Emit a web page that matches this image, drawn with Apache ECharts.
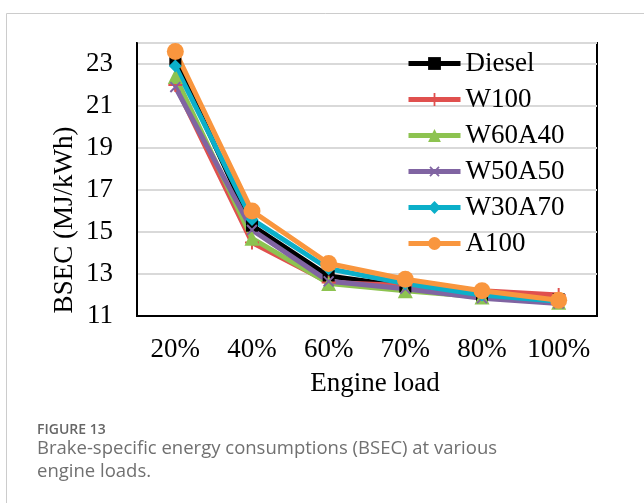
<!DOCTYPE html>
<html>
<head>
<meta charset="utf-8">
<script src="https://cdn.jsdelivr.net/npm/echarts@6/dist/echarts.min.js"></script>
<style>
  html, body { margin: 0; padding: 0; background: #fff; }
  #chart { width: 644px; height: 503px; }
</style>
</head>
<body>
<div id="chart"></div>
<script>
// Engine load categories and BSEC values (MJ/kWh) per fuel
const loads = ['20%', '40%', '60%', '70%', '80%', '100%'];
const diesel = [23.2, 15.3, 12.9, 12.4, 11.9, 11.8];
const w100   = [22.0, 14.5, 12.6, 12.45, 12.2, 12.0];
const w60a40 = [22.4, 14.7, 12.55, 12.2, 11.9, 11.65];
const w50a50 = [21.9, 15.1, 12.65, 12.3, 11.85, 11.6];
const w30a70 = [22.9, 15.6, 13.25, 12.55, 12.0, 11.7];
const a100   = [23.6, 16.0, 13.5, 12.75, 12.2, 11.75];
const yTicks = [11, 13, 15, 17, 19, 21, 23];

const serif = '"Liberation Serif", "Times New Roman", serif';
const plusPath = 'path://M4.3,0 L5.7,0 L5.7,4.3 L10,4.3 L10,5.7 L5.7,5.7 L5.7,10 L4.3,10 L4.3,5.7 L0,5.7 L0,4.3 L4.3,4.3 Z';

function lineSeries(name, data, color, symbol, size, extra) {
  return Object.assign({
    name: name,
    type: 'line',
    data: data,
    symbol: symbol,
    symbolSize: size,
    lineStyle: { color: color, width: 5 },
    itemStyle: { color: color },
    emphasis: { disabled: true },
    animation: false
  }, extra || {});
}

const chart = echarts.init(document.getElementById('chart'), null, { renderer: 'canvas' });
chart.setOption({
  backgroundColor: '#ffffff',
  grid: { left: 137, right: 47, top: 43, bottom: 187, show: true, borderColor: '#000', borderWidth: 2, backgroundColor: 'transparent' },
  legend: {
    orient: 'vertical',
    left: 406,
    top: 50,
    padding: 0,
    itemWidth: 52,
    itemHeight: 16,
    itemGap: 9,
    lineStyle: { width: 5 },
    textStyle: { fontFamily: serif, fontSize: 27, color: '#000', lineHeight: 27 },
    data: ['Diesel', 'W100', 'W60A40', 'W50A50', 'W30A70', 'A100']
  },
  xAxis: {
    type: 'category',
    data: loads,
    boundaryGap: true,
    axisTick: { show: false },
    axisLine: { show: true, lineStyle: { color: '#000', width: 2 } },
    axisLabel: { fontFamily: serif, fontSize: 27, color: '#000', margin: 20, interval: 0 },
    name: 'Engine load',
    nameLocation: 'middle',
    nameGap: 54,
    nameTextStyle: { fontFamily: serif, fontSize: 27, color: '#000', padding: [0, 0, 0, 16] }
  },
  yAxis: {
    type: 'value',
    min: 11,
    max: 24,
    interval: 2,
    axisLine: { show: true, lineStyle: { color: '#000', width: 2 } },
    axisTick: { show: false },
    axisLabel: {
      fontFamily: serif, fontSize: 27, color: '#000', margin: 24,
      formatter: v => (yTicks.indexOf(v) >= 0 ? String(v) : '')
    },
    splitLine: { lineStyle: { color: '#d9d9d9', width: 2 } }
  },
  graphic: [
    { type: 'rect', left: 4, top: 11, shape: { width: 700, height: 600 }, style: { fill: 'none', stroke: '#cccccc', lineWidth: 1 }, z: -10 },
    { type: 'text', x: 65, y: 220, rotation: Math.PI / 2,
      style: { text: 'BSEC (MJ/kWh)', font: '27px ' + serif, fill: '#000', align: 'center', verticalAlign: 'middle' } },
    { type: 'text', left: 37, top: 423,
      style: { text: 'FIGURE 13', font: '600 14px "Open Sans", sans-serif', fill: '#666' } },
    { type: 'text', left: 37, top: 437,
      style: { text: 'Brake-specific energy consumptions (BSEC) at various\nengine loads.', font: '18.5px "Open Sans", sans-serif', fill: '#707070', lineHeight: 23 } }
  ],
  series: [
    lineSeries('Diesel', diesel, '#000000', 'rect', 12),
    lineSeries('W100', w100, '#E0504E', plusPath, 14),
    lineSeries('W60A40', w60a40, '#8DC350', 'triangle', 15),
    lineSeries('W50A50', w50a50, '#8064A2', plusPath, 14, { symbolRotate: 45 }),
    lineSeries('W30A70', w30a70, '#0BAFC9', 'diamond', 13),
    lineSeries('A100', a100, '#F9963E', 'circle', 17)
  ]
});
</script>
</body>
</html>
